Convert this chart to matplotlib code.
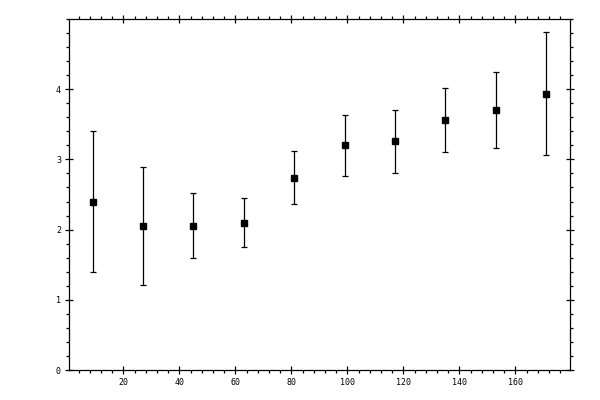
import numpy as np
import matplotlib
matplotlib.use("Agg")
import matplotlib.pyplot as plt
from matplotlib.ticker import MultipleLocator

# values
x = [9, 27, 45, 63, 81, 99, 117, 135, 153, 171]
y = [2.39, 2.05, 2.05, 2.09, 2.73, 3.20, 3.26, 3.56, 3.70, 3.93]
y_lo = [1.39, 1.21, 1.59, 1.75, 2.36, 2.76, 2.80, 3.10, 3.16, 3.06]
y_hi = [3.40, 2.89, 2.52, 2.45, 3.12, 3.63, 3.71, 4.01, 4.25, 4.81]
x_ticks = [20, 40, 60, 80, 100, 120, 140, 160]
y_ticks = [0, 1, 2, 3, 4]

y = np.array(y)
yerr = [y - np.array(y_lo), np.array(y_hi) - y]

fig = plt.figure(figsize=(6, 4), dpi=100)
ax = fig.add_axes([0.1155, 0.075, 0.8345, 0.8775])
ax.errorbar(x, y, yerr=yerr, fmt="s", color="black", ms=5.0, lw=0.9,
            capsize=2.0, capthick=0.9, elinewidth=0.9)

ax.set_xlim(0.7, 179.5)
ax.set_ylim(0, 5.0)
ax.set_xticks(x_ticks); ax.set_xticklabels([str(t) for t in x_ticks])
ax.set_yticks(y_ticks); ax.set_yticklabels([str(t) for t in y_ticks])
ax.xaxis.set_minor_locator(MultipleLocator(4))
ax.yaxis.set_minor_locator(MultipleLocator(0.2))
for s in ax.spines.values():
    s.set_linewidth(0.9)
ax.tick_params(which="major", direction="inout", length=6, width=0.9,
               top=True, right=True, labelsize=6, pad=3)
ax.tick_params(which="minor", direction="out", length=2.5, width=0.9,
               top=True, right=True)
for lab in ax.get_xticklabels() + ax.get_yticklabels():
    lab.set_family("DejaVu Sans Mono")

fig.savefig("out.png", dpi=100)
